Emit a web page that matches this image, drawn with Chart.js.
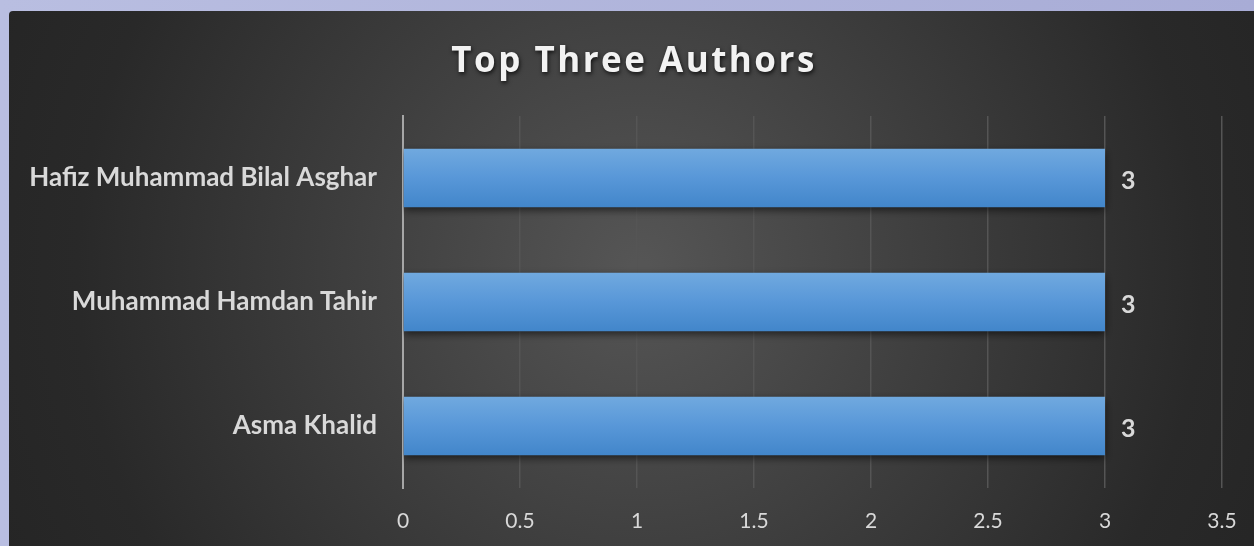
<!DOCTYPE html>
<html>
<head>
<meta charset="utf-8">
<script src="https://cdn.jsdelivr.net/npm/chart.js@4.4.1/dist/chart.umd.min.js"></script>
<style>
  html, body { margin: 0; padding: 0; background: #b1b6dc; }
  #wrap { width: 1254px; height: 546px; position: relative; }
</style>
</head>
<body>
<div id="wrap"><canvas id="authorChart"></canvas></div>
<script>
const authors = ['Hafiz Muhammad Bilal Asghar', 'Muhammad Hamdan Tahir', 'Asma Khalid'];
const papers = [3, 3, 3];
const tickStep = 0.5;
const axisMax = 3.5;
const chartTitle = 'Top Three Authors';
const barPct = 0.47;

// dark panel with the soft radial light behind the chart
const panelBg = {
    id: 'panelBg',
    beforeDraw(chart) {
        const c = chart.ctx;
        const w = chart.width, h = chart.height;
        c.save();
        let lav = c.createLinearGradient(0, 0, w, 0);
        lav.addColorStop(0, '#b9bee1');
        lav.addColorStop(1, '#a8acd6');
        c.fillStyle = lav;
        c.fillRect(0, 0, w, h);
        let g = c.createRadialGradient(640, 270, 10, 640, 270, 700);
        g.addColorStop(0, '#555555');
        g.addColorStop(0.45, '#3c3c3c');
        g.addColorStop(0.8, '#292929');
        g.addColorStop(1, '#252525');
        c.fillStyle = g;
        c.beginPath();
        c.roundRect(9, 11, w, h, 4);
        c.fill();
        c.restore();
    }
};

const titleAndLabels = {
    id: 'titleAndLabels',
    beforeDatasetsDraw(chart) {
        // shadow under the bars
        chart.ctx.save();
        chart.ctx.shadowColor = 'rgba(0,0,0,0.6)';
        chart.ctx.shadowBlur = 8;
        chart.ctx.shadowOffsetY = 3;
    },
    afterDatasetsDraw(chart) {
        chart.ctx.restore();
        const c = chart.ctx;
        c.save();
        c.fillStyle = '#d9d9d9';
        c.font = 'bold 25px Lato';
        c.textBaseline = 'middle';
        chart.getDatasetMeta(0).data.forEach((bar, i) => {
            c.fillText(papers[i], bar.x + 16, bar.y + 3);
        });
        c.restore();
    },
    afterDraw(chart) {
        const c = chart.ctx;
        c.save();
        c.font = 'bold 35px "Open Sans"';
        c.letterSpacing = '2.5px';
        c.textAlign = 'center';
        c.textBaseline = 'alphabetic';
        c.shadowColor = 'rgba(0,0,0,0.75)';
        c.shadowBlur = 4;
        c.shadowOffsetX = 1;
        c.shadowOffsetY = 2;
        c.fillStyle = '#f2f2f2';
        c.fillText(chartTitle, 634, 72);
        c.restore();
    }
};

const ctx = document.getElementById('authorChart');

new Chart(ctx, {
    type: 'bar',
    data: {
        labels: authors,
        datasets: [{
            label: 'Papers',
            data: papers,
            backgroundColor: (context) => {
                const chart = context.chart;
                const yScale = chart.scales.y;
                if (!yScale || !yScale.height) return '#5797d8';
                const mid = yScale.getPixelForValue(context.dataIndex);
                const half = yScale.height / authors.length * barPct / 2;
                const grad = chart.ctx.createLinearGradient(0, mid - half, 0, mid + half);
                grad.addColorStop(0, '#70a9df');
                grad.addColorStop(0.5, '#5897d8');
                grad.addColorStop(1, '#4286ca');
                return grad;
            },
            borderWidth: 0,
            categoryPercentage: 1,
            barPercentage: barPct
        }]
    },
    options: {
        indexAxis: 'y',
        responsive: true,
        maintainAspectRatio: false,
        animation: false,
        layout: {
            padding: { top: 116, right: 32, left: 0, bottom: 0 }
        },
        plugins: {
            legend: { display: false },
            tooltip: { enabled: false }
        },
        scales: {
            x: {
                min: 0,
                max: axisMax,
                ticks: {
                    stepSize: tickStep,
                    color: '#d9d9d9',
                    font: { family: 'Lato', size: 21 },
                    padding: 21,
                    callback: (v) => String(+v.toFixed(1))
                },
                grid: {
                    color: '#555555',
                    lineWidth: 1.5,
                    drawTicks: false
                },
                border: { display: false },
                afterFit(scale) {
                    scale.height = 58;
                    scale.paddingLeft = 0;
                    scale.paddingRight = 0;
                }
            },
            y: {
                ticks: {
                    color: '#d9d9d9',
                    font: { family: 'Lato', size: 26, weight: 'bold' },
                    padding: 26
                },
                grid: { display: false, drawTicks: false },
                border: { color: '#a6a6a6', width: 2 },
                afterFit(scale) { scale.width = 403; }
            }
        }
    },
    plugins: [panelBg, titleAndLabels]
});
</script>
</body>
</html>
